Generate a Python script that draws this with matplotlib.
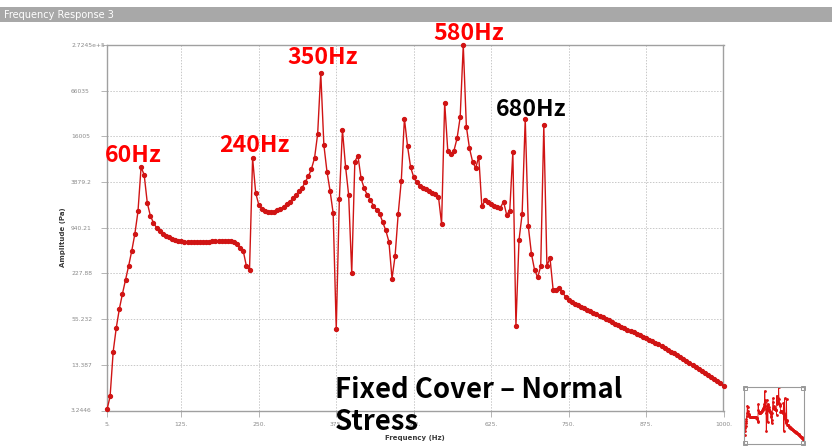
import matplotlib
matplotlib.use("Agg")
import matplotlib.pyplot as plt
from matplotlib.patches import Rectangle


# frequency grid (Hz), one sample every 5 Hz
freq_hz = list(range(5, 1001, 5))

# amplitude (Pa)
amplitude_pa = [
    3.35, 5.01, 20.2, 42.4, 76.4, 122, 188, 290, 461, 780,
    1560, 6160, 4850, 2040, 1360, 1100, 939, 843, 780, 733,
    700, 672, 648, 632, 620, 613, 609, 608, 607, 607,
    607, 608, 609, 613, 616, 618, 620, 622, 622, 620,
    615, 600, 564, 498, 454, 285, 252, 8140, 2750, 1920,
    1670, 1570, 1520, 1510, 1540, 1620, 1690, 1800, 1950, 2100,
    2340, 2610, 2910, 3240, 3910, 4630, 5840, 8210, 17300, 115000,
    12300, 5380, 2960, 1480, 40.8, 2290, 19600, 6270, 2610, 231,
    7330, 8820, 4380, 3210, 2610, 2240, 1860, 1640, 1450, 1120,
    864, 609, 194, 395, 1450, 4070, 27800, 11900, 6160, 4520,
    3870, 3480, 3240, 3100, 2940, 2800, 2670, 2450, 1060, 45500,
    10200, 9210, 10300, 15100, 29000, 272000, 21700, 11100, 7330, 5970,
    8550, 1820, 2190, 2070, 1980, 1870, 1770, 1750, 2120, 1410,
    1590, 9800, 45.1, 648, 1440, 27500, 978, 420, 256, 202,
    283, 22600, 290, 367, 138, 138, 144, 127, 111, 99.5,
    93.5, 89.2, 85.2, 81.3, 77.2, 73.4, 70.1, 66.9, 63.9, 61.0,
    58.2, 55.5, 53.0, 50.6, 48.2, 45.9, 43.8, 41.7, 39.8, 38.1,
    36.5, 34.9, 33.3, 31.8, 30.4, 29.0, 27.7, 26.4, 25.2, 23.9,
    22.6, 21.4, 20.2, 19.1, 18.0, 17.0, 16.0, 15.1, 14.2, 13.4,
    12.6, 11.8, 11.1, 10.4, 9.74, 9.13, 8.56, 8.02, 7.51, 7.04,
]

x_ticks = [5, 125, 250, 375, 500, 625, 750, 875, 1000]
x_tick_labels = ["5.", "125.", "250.", "375.", "500.", "625.", "750.", "875.", "1000."]
y_ticks = [3.2446, 13.387, 55.232, 227.88, 940.21, 3879.2, 16005, 66035, 272450]
y_tick_labels = ["3.2446", "13.387", "55.232", "227.88", "940.21", "3879.2",
                 "16005", "66035", "2.7245e+5"]

# peak labels: text, colour, centre position in pixels of the 832x447 picture
peak_labels = [
    ("60Hz", "#ff0000", 133, 155),
    ("240Hz", "#ff0000", 254, 145),
    ("350Hz", "#ff0000", 323, 58),
    ("580Hz", "#ff0000", 469, 34),
    ("680Hz", "#000000", 531, 110),
]

W, H = 832, 447
LINE_RED = "#d01414"
GRID_GRAY = "#c8c8c8"
TEXT_GRAY = "#8a8a8a"
BOLD_FONT = ["Noto Sans CJK KR", "DejaVu Sans"]
AX_L, AX_T, AX_R, AX_B = 107, 45, 723.5, 410.5


def px(x, y):
    """pixel position -> figure fraction"""
    return x / W, 1 - y / H


fig = plt.figure(figsize=(W / 100, H / 100), dpi=100)
fig.patch.set_facecolor("white")

# grey title banner
fig.add_artist(Rectangle(px(0, 22), 1, 15 / H, transform=fig.transFigure,
                         facecolor="#a8a8a8", edgecolor="none"))
fig.text(*px(4, 15), "Frequency Response 3", color="white", fontsize=7,
         va="center", ha="left")

ax = fig.add_axes([AX_L / W, 1 - AX_B / H, (AX_R - AX_L) / W, (AX_B - AX_T) / H])
ax.plot(freq_hz, amplitude_pa, color=LINE_RED, lw=1.0, marker="o", ms=2.8,
        mfc=LINE_RED, mec=LINE_RED, clip_on=False, zorder=3)
ax.set_yscale("log")
ax.set_xlim(5, 1000)
ax.set_ylim(3.2446, 272450)
ax.set_xticks(x_ticks)
ax.set_xticklabels(x_tick_labels)
ax.set_yticks(y_ticks)
ax.set_yticklabels(y_tick_labels)
ax.minorticks_off()
ax.tick_params(axis="both", labelsize=4.3, labelcolor=TEXT_GRAY, color="#aaaaaa",
               length=4, width=0.6)
ax.tick_params(axis="x", pad=4)
# y tick labels are left aligned, starting ~36 px left of the axis
ax.tick_params(axis="y", pad=36 / 1.389 - 4)
for lab in ax.get_yticklabels():
    lab.set_horizontalalignment("left")
ax.grid(True, color=GRID_GRAY, ls=(0, (1.5, 1.5)), lw=0.7)
for s in ax.spines.values():
    s.set_color("#a0a0a0")
    s.set_linewidth(1.0)
ax.set_xlabel("Frequency (Hz)", fontsize=5, color="#3a3a3a", fontweight="bold")
ax.set_ylabel("Amplitude (Pa)", fontsize=5, color="#3a3a3a", fontweight="bold")
ax.xaxis.set_label_coords(0.5, -(435 - AX_B) / (AX_B - AX_T))
ax.yaxis.set_label_coords(-(AX_L - 66) / (AX_R - AX_L), (AX_B - 237) / (AX_B - AX_T))

for text, color, x, y in peak_labels:
    fig.text(*px(x, y), text, color=color, fontsize=16.7, fontweight="bold",
             family=BOLD_FONT, ha="center", va="center", zorder=5)

fig.text(*px(335, 390), "Fixed Cover \u2013 Normal", color="black", fontsize=19.8,
         fontweight="bold", family=BOLD_FONT, ha="left", va="center", zorder=5)
fig.text(*px(335, 422), "Stress", color="black", fontsize=19.8,
         fontweight="bold", family=BOLD_FONT, ha="left", va="center", zorder=5)

# small overview thumbnail in the bottom right corner
inset = fig.add_axes([744 / W, 1 - 444 / H, 60 / W, 57.5 / H])
inset.plot(freq_hz, amplitude_pa, color="#dd1111", lw=0.6, marker="o", ms=1.0)
inset.set_yscale("log")
inset.set_xlim(5, 1000)
inset.set_ylim(3.2446, 272450)
inset.set_xticks([])
inset.set_yticks([])
inset.minorticks_off()
for s in inset.spines.values():
    s.set_color("#9a9a9a")
    s.set_linewidth(0.8)
inset.plot([0.02, 0.98, 0.02, 0.98], [0.02, 0.02, 0.98, 0.98], ls="none",
           marker="s", ms=3, mfc="white", mec="#888888", mew=0.6,
           transform=inset.transAxes, clip_on=False)

fig.savefig("out.png", dpi=100)
